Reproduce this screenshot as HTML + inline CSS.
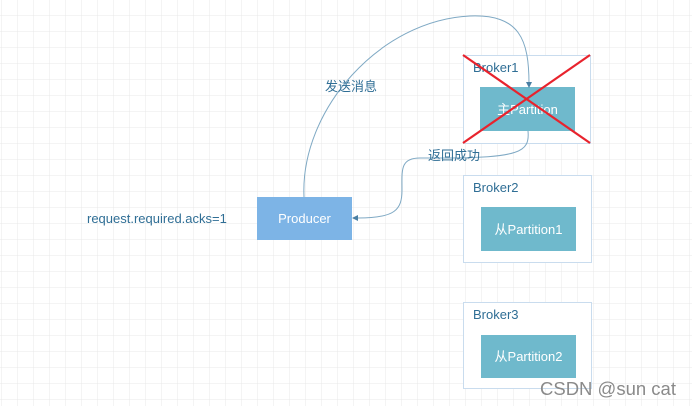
<!DOCTYPE html>
<html><head><meta charset="utf-8"><style>
html,body{margin:0;padding:0;background:#fff;}
svg{display:block;font-family:"Liberation Sans","Noto Sans CJK SC",sans-serif;}
</style></head><body>
<svg width="692" height="406" viewBox="0 0 692 406" xmlns="http://www.w3.org/2000/svg">
<defs>
<pattern id="g" x="1" y="-1" width="16" height="16" patternUnits="userSpaceOnUse">
<path d="M0 0H16M0 0V16" stroke="#e8e8e8" stroke-width="1" fill="none"/>
</pattern>
</defs>
<rect width="692" height="406" fill="#fff"/>
<rect width="692" height="406" fill="url(#g)"/>

<rect x="463.5" y="55.5" width="127" height="88" fill="#fff" stroke="#c9dcee"/>
<rect x="463.5" y="175.5" width="128" height="87" fill="#fff" stroke="#c9dcee"/>
<rect x="463.5" y="302.5" width="128" height="86" fill="#fff" stroke="#c9dcee"/>
<text x="473" y="72" font-size="13" fill="#2f6e95">Broker1</text>
<text x="473" y="192" font-size="13" fill="#2f6e95">Broker2</text>
<text x="473" y="319" font-size="13" fill="#2f6e95">Broker3</text>

<rect x="480" y="87" width="95" height="44" fill="#6fb9cc"/>
<rect x="481" y="207" width="95" height="44" fill="#6fb9cc"/>
<rect x="481" y="335" width="95" height="43" fill="#6fb9cc"/>
<text x="527.5" y="114" font-size="13" fill="#fff" text-anchor="middle">主Partition</text>
<text x="528.5" y="234" font-size="13" fill="#fff" text-anchor="middle">从Partition1</text>
<text x="528.5" y="361" font-size="13" fill="#fff" text-anchor="middle">从Partition2</text>

<rect x="257" y="197" width="95" height="43" fill="#7db4e6"/>
<text x="304.5" y="223" font-size="13" fill="#fff" text-anchor="middle">Producer</text>
<text x="87" y="223" font-size="13" fill="#2f6e95">request.required.acks=1</text>

<path d="M304 197 C 300 110, 380 20, 470 16 C 520 14, 529 40, 529 84" fill="none" stroke="#7fa9c4" stroke-width="1"/>
<path d="M526 82 L529 88 L532 82 Z" fill="#4a7fa3"/>
<path d="M528 131 C 530 152, 520 158, 440 158 L 420 158 C 400 158, 402 170, 402 190 C 402 210, 395 218, 358 218" fill="none" stroke="#7fa9c4" stroke-width="1"/>
<path d="M358 215 L352 218 L358 221 Z" fill="#4a7fa3"/>
<text x="325" y="91" font-size="13" fill="#2f6e95">发送消息</text>
<text x="428" y="160" font-size="13" fill="#2f6e95">返回成功</text>

<line x1="463" y1="55" x2="590" y2="143" stroke="#e8232d" stroke-width="2.2"/>
<line x1="590" y1="55" x2="463" y2="143" stroke="#e8232d" stroke-width="2.2"/>

<text x="540" y="395" font-size="18.5" fill="#8a8a8a">CSDN @sun cat</text>
</svg>
</body></html>
